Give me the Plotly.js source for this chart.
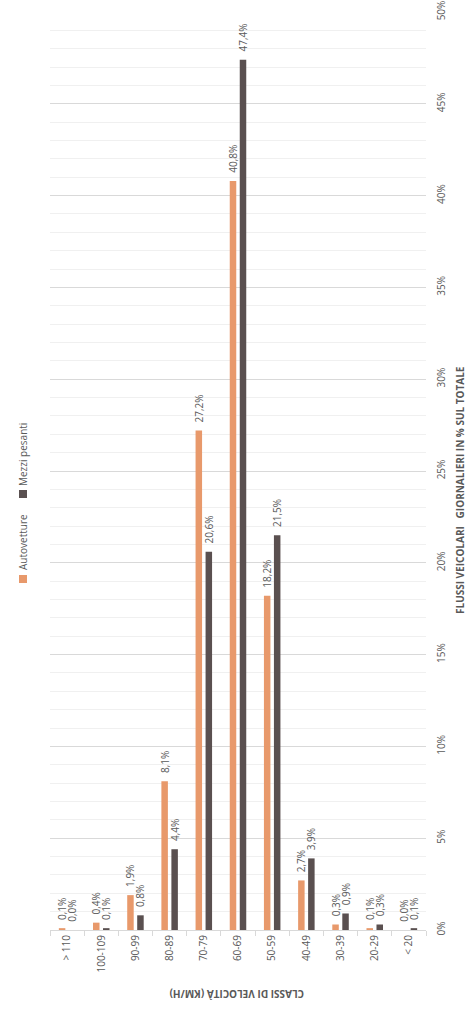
<!DOCTYPE html>
<html>
<head>
<meta charset="utf-8">
<script src="https://cdn.plot.ly/plotly-3.0.1.min.js"></script>
<style>
  html, body { margin: 0; padding: 0; background: #fff; }
  #chart { width: 469px; height: 1009px; }
</style>
</head>
<body>
<div id="chart"></div>
<script>
// ---- data ----
const categories = ['> 110', '100-109', '90-99', '80-89', '70-79', '60-69', '50-59', '40-49', '30-39', '20-29', '< 20'];
const autovetture = [0.1, 0.4, 1.9, 8.1, 27.2, 40.8, 18.2, 2.7, 0.3, 0.1, 0.0];
const mezziPesanti = [0.0, 0.1, 0.8, 4.4, 20.6, 47.4, 21.5, 3.9, 0.9, 0.3, 0.1];
const seriesNames = ['Autovetture', 'Mezzi pesanti'];
const yTitle = 'FLUSSI VEICOLARI \u00a0 GIORNALIERI IN % SUL TOTALE';
const xTitle = 'CLASSI DI VELOCITÀ (KM/H)';

// ---- style ----
const W = 469, H = 1009;
const M = {l: 50, r: 43, t: 12, b: 79};
const PW = W - M.l - M.r, PH = H - M.t - M.b;
const COL_A = '#E8996B', COL_M = '#5A5050';
const TXT = '#595959';
const FONT = 'Open Sans, sans-serif';
const PAD = '\u00a0\u00a0';

const fmt = v => PAD + v.toFixed(1).replace('.', ',') + '%';
const px2x = px => (px - M.l) / PW;
const px2y = py => (H - M.b - py) / PH;

function barTrace(name, vals, color) {
  return {
    type: 'bar', name: name, x: categories, y: vals,
    marker: {color: color},
    text: vals.map(fmt), textposition: 'outside', textangle: -90,
    constraintext: 'none', cliponaxis: false,
    textfont: {family: FONT, size: 10, color: TXT},
    hoverinfo: 'skip'
  };
}

const data = [barTrace(seriesNames[0], autovetture, COL_A), barTrace(seriesNames[1], mezziPesanti, COL_M)];

const legendItems = [
  {name: seriesNames[1], color: COL_M, sqY: 494, txtY: 454},
  {name: seriesNames[0], color: COL_A, sqY: 579, txtY: 542}
];
const shapes = legendItems.map(it => ({
  type: 'rect', xref: 'paper', yref: 'paper',
  x0: px2x(19), x1: px2x(27), y0: px2y(it.sqY + 4), y1: px2y(it.sqY - 4),
  fillcolor: it.color, line: {width: 0}
}));
const annotations = legendItems.map(it => ({
  xref: 'paper', yref: 'paper', x: px2x(23), y: px2y(it.txtY),
  text: it.name, showarrow: false, textangle: -90,
  xanchor: 'center', yanchor: 'middle',
  font: {family: FONT, size: 10, color: TXT}
}));
annotations.push({
  xref: 'paper', yref: 'paper', x: px2x(460), y: px2y(490),
  text: '<b>' + yTitle + '</b>', showarrow: false, textangle: -90,
  xanchor: 'center', yanchor: 'middle',
  font: {family: FONT, size: 10, color: TXT}
});
annotations.push({
  xref: 'paper', yref: 'paper', x: px2x(237), y: px2y(994),
  text: '<b>' + xTitle + '</b>', showarrow: false, textangle: 180,
  xanchor: 'center', yanchor: 'middle',
  font: {family: FONT, size: 10, color: TXT}
});

const layout = {
  width: W, height: H, margin: M,
  paper_bgcolor: '#fff', plot_bgcolor: '#fff',
  showlegend: false,
  barmode: 'group', bargap: 0.415, bargroupgap: 0.35,
  font: {family: FONT, size: 10, color: TXT},
  xaxis: {
    type: 'category', tickangle: -90, tickson: 'boundaries',
    ticks: 'outside', ticklen: 5, tickcolor: '#d9d9d9',
    showline: true, linecolor: '#d9d9d9', linewidth: 1,
    showgrid: false, zeroline: false,
    tickfont: {family: FONT, size: 10, color: TXT}
  },
  yaxis: {
    side: 'right', range: [0, 50], dtick: 5, tick0: 0, ticksuffix: '%',
    tickangle: -90, showline: false, zeroline: false, ticks: '',
    gridcolor: '#d9d9d9', gridwidth: 1,
    minor: {dtick: 1, showgrid: true, gridcolor: '#f0f0f0', gridwidth: 1},
    tickfont: {family: FONT, size: 10, color: TXT},
    ticklabelstandoff: 8
  },
  shapes: shapes, annotations: annotations
};

Plotly.newPlot('chart', data, layout, {displayModeBar: false, staticPlot: true});
</script>
</body>
</html>
